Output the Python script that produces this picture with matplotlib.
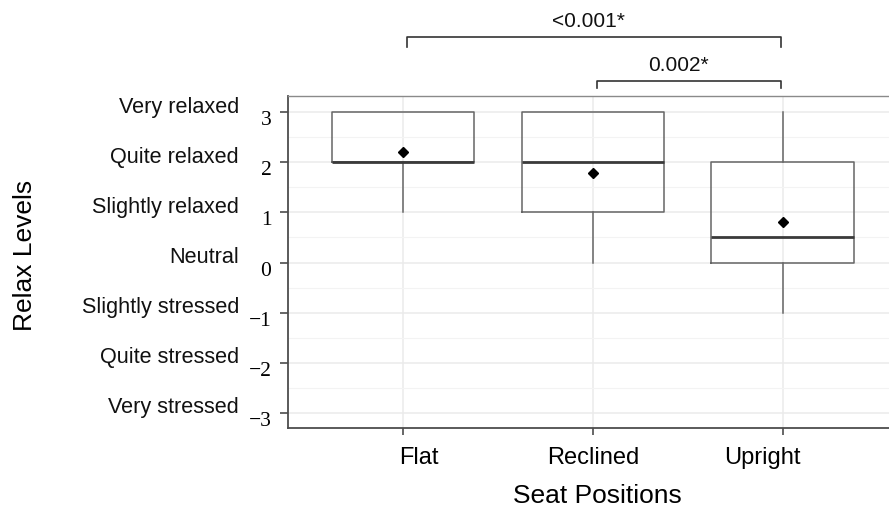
import numpy as np
import matplotlib.pyplot as plt
import matplotlib.transforms as mtransforms
from matplotlib.ticker import MultipleLocator

# summary values
positions = ['Flat', 'Reclined', 'Upright']
q1 = [2, 1, 0]
median = [2, 2, 0.5]
q3 = [3, 3, 2]
whisker_low = [1, 0, -1]
whisker_high = [3, 3, 3]
means = [2.2, 1.78, 0.8]

level_values = [3, 2, 1, 0, -1, -2, -3]
level_names = ['Very relaxed', 'Quite relaxed', 'Slightly relaxed', 'Neutral',
               'Slightly stressed', 'Quite stressed', 'Very stressed']

# significance brackets: (left group, right group, label)
brackets = [(1, 3, '<0.001*'), (2, 3, '0.002*')]
bracket_heights = [4.5, 3.62]
bracket_label_x = [1.975, 2.45]

plt.rcParams['font.family'] = ['Liberation Sans', 'DejaVu Sans']

fig = plt.figure(figsize=(8.89, 5.10), dpi=100)
ax = fig.add_axes([288 / 889, 1 - 429 / 510, 1 - 288 / 889, (429 - 97) / 510])

stats = []
for i in range(len(positions)):
    stats.append(dict(med=median[i], q1=q1[i], q3=q3[i],
                      whislo=whisker_low[i], whishi=whisker_high[i],
                      mean=means[i], fliers=[], label=positions[i]))

xpos = np.arange(1, len(positions) + 1)
ax.bxp(stats, positions=xpos, widths=0.75, showmeans=True, showcaps=False,
       boxprops=dict(color='#666666', linewidth=1.1),
       whiskerprops=dict(color='#666666', linewidth=1.1),
       medianprops=dict(color='#3a3a3a', linewidth=2.0),
       meanprops=dict(marker='D', markerfacecolor='black', markeredgecolor='black',
                      markersize=5.5),
       zorder=3)

ax.set_xlim(0.395, 3.56)
ax.set_ylim(-3.3, 3.32)
ax.set_yticks(level_values)
ax.set_yticklabels([str(v).replace('-', '\u2212') for v in level_values],
                   fontfamily='Liberation Serif', fontsize=15.5)
ax.yaxis.set_minor_locator(MultipleLocator(0.5))
ax.set_xticks(xpos)
ax.set_xticklabels(positions, fontsize=17)

ax.grid(True, which='major', color='#ebebeb', linewidth=1.1, zorder=0)
ax.grid(True, which='minor', axis='y', color='#f3f3f3', linewidth=0.8, zorder=0)
ax.set_axisbelow(True)

for side in ['left', 'bottom']:
    ax.spines[side].set_color('#4d4d4d')
    ax.spines[side].set_linewidth(1.3)
ax.spines['top'].set_color('#8a8a8a')
ax.spines['top'].set_linewidth(1.0)
ax.spines['right'].set_visible(False)

ax.tick_params(axis='y', which='major', length=6, width=1.2, color='#4d4d4d', pad=6)
ax.tick_params(axis='y', which='minor', length=0)
ax.tick_params(axis='x', length=5, width=1.2, color='#4d4d4d', pad=8)

# nudge the numeric labels down a little
for lab in ax.get_yticklabels():
    lab.set_transform(lab.get_transform() +
                      mtransforms.ScaledTranslation(0, -0.05, fig.dpi_scale_trans))

# the category labels sit a bit off their ticks in the original
x_shift = [0.16, 0.0, -0.20]
for lab, dx in zip(ax.get_xticklabels(), x_shift):
    lab.set_transform(lab.get_transform() +
                      mtransforms.ScaledTranslation(dx, 0, fig.dpi_scale_trans))

# word labels for each level
for v, name in zip(level_values, level_names):
    ax.annotate(name, xy=(0, v), xycoords=('axes fraction', 'data'),
                xytext=(-49, 6), textcoords='offset pixels',
                ha='right', va='center', fontsize=15.6, color='#111111',
                annotation_clip=False)

# brackets above the panel
for (a, b, text), h, lx in zip(brackets, bracket_heights, bracket_label_x):
    left = a + 0.02
    right = b - 0.01
    drop = 0.2 if h > 4 else 0.15
    ax.plot([left, left, right, right], [h - drop, h, h, h - drop],
            color='#333333', linewidth=1.2, clip_on=False)
    ax.text(lx, h + 0.33, text, ha='center', va='center',
            fontsize=15, color='#111111', clip_on=False)

fig.text(597 / 889, 1 - 496 / 510, 'Seat Positions', ha='center', va='center',
         fontsize=19)
fig.text(25 / 889, 1 - 255 / 510, 'Relax Levels', rotation=90,
         ha='center', va='center', fontsize=19)

fig.savefig('out.png', dpi=100)
